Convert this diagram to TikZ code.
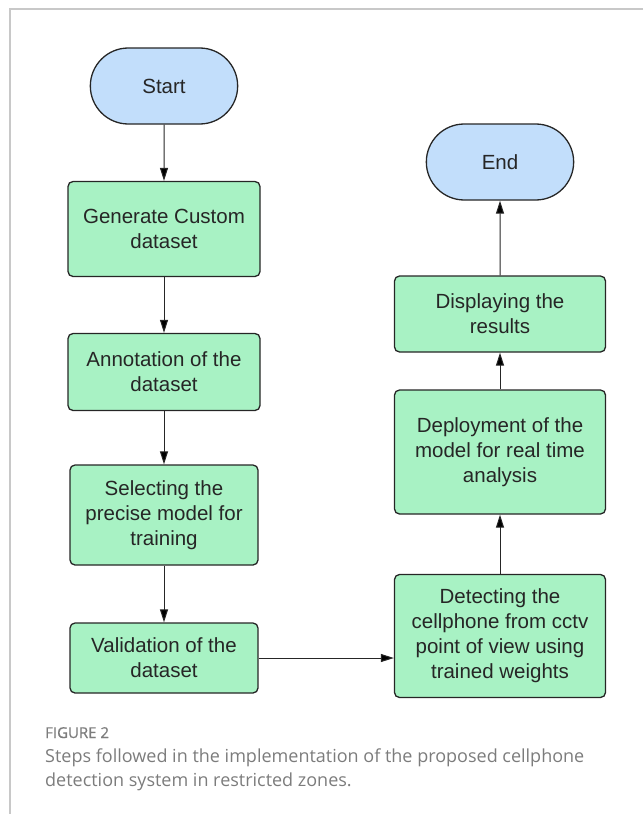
\documentclass[tikz,border=0pt]{standalone}
\usepackage{fontspec}
\setmainfont{Liberation Sans}
\newfontfamily\capfont{Open Sans}
\newfontfamily\capbold[FakeBold=0.7]{Open Sans}
\usetikzlibrary{positioning, arrows.meta, shapes.misc}
\definecolor{boxgreen}{HTML}{A8F2C4}
\definecolor{termblue}{HTML}{C2DEFB}
\definecolor{inkgray}{HTML}{262626}
\definecolor{framegray}{HTML}{C8C8C8}
\definecolor{capgray}{HTML}{7C7C7C}

\tikzset{
  process/.style={rectangle, rounded corners=5pt, draw=inkgray, line width=1.3pt,
    fill=boxgreen, align=center, text=inkgray, font=\fontsize{20.5}{25}\selectfont},
  terminal/.style={rounded rectangle, draw=inkgray, line width=1.3pt, fill=termblue,
    minimum width=154pt, minimum height=76pt, text=inkgray, font=\fontsize{20.5}{25}\selectfont},
  caption/.style={anchor=base west, inner sep=0pt, text=capgray}
}

\begin{document}
\begin{tikzpicture}[x=1pt,y=-1pt,>={Triangle[length=13pt,width=8pt]},node distance=143pt,on grid]
    \useasboundingbox (0,0) rectangle (643,814);
    \draw[framegray, line width=1.2pt] (643,9) -- (10,9) -- (10,814);

    \node[terminal] (start) at (164,86) {Start};
    \node[process, minimum width=192pt, minimum height=95pt] (gen) [below=of start] {Generate Custom\\dataset};
    \node[process, minimum width=192pt, minimum height=77pt] (annot) [below=of gen] {Annotation of the\\dataset};
    \node[process, minimum width=188pt, minimum height=100pt] (select) [below=of annot] {Selecting the\\precise model for\\training};
    \node[process, minimum width=188pt, minimum height=70pt] (valid) [below=of select] {Validation of the\\dataset};

    \node[process, minimum width=211pt, minimum height=123pt] (detect) at (500,636) {Detecting the\\cellphone from cctv\\point of view using\\trained weights};
    \node[process, minimum width=211pt, minimum height=124pt] (deploy) [above=184pt of detect] {Deployment of the\\model for real time\\analysis};
    \node[process, minimum width=211pt, minimum height=76pt] (display) [above=138pt of deploy] {Displaying the\\results};
    \node[terminal] (end) [above=152pt of display] {End};

    \path[->, draw=inkgray, line width=1pt]
      (start)   edge (gen)
      (gen)     edge (annot)
      (annot)   edge (select)
      (select)  edge (valid)
      (valid)   edge (valid.east -| detect.west)
      (detect)  edge (deploy)
      (deploy)  edge (display)
      (display) edge (end);

    \node[caption, font=\capbold\fontsize{15}{18}\selectfont] (figlabel) at (45,738) {FIGURE 2};
    \node[caption, font=\capfont\fontsize{18}{24}\selectfont] (cap1) at (45,762) {Steps followed in the implementation of the proposed cellphone};
    \node[caption, font=\capfont\fontsize{18}{24}\selectfont] (cap2) at (45,786) {detection system in restricted zones.};
\end{tikzpicture}
\end{document}
